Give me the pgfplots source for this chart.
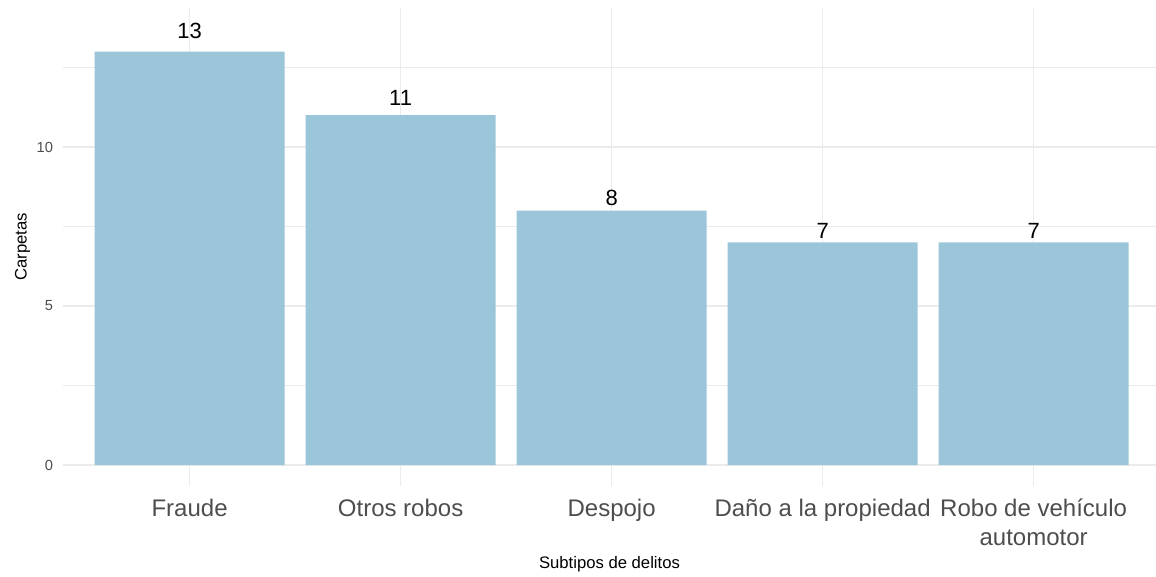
\documentclass[border=0pt]{standalone}
\usepackage{pgfplots}
\pgfplotsset{compat=1.18}
\usepackage{fontspec}
\setmainfont{Liberation Sans}
\definecolor{barc}{HTML}{9BC6D9}
\definecolor{gridc}{HTML}{EBEBEB}
\definecolor{tickc}{HTML}{4D4D4D}
\begin{document}
\begin{tikzpicture}[x=1pt,y=1pt]
\begin{axis}[
  scale only axis,
  width=819.75pt, height=358.5pt,
  xmin=0.4, xmax=5.58,
  ymin=-0.66, ymax=14.37,
  axis line style={draw=none},
  tick style={draw=none},
  xtick={1,2,3,4,5},
  xticklabels={Fraude,Otros robos,Despojo,Daño a la propiedad,{Robo de vehículo\\automotor}},
  xticklabel style={font=\fontsize{18}{21.5}\selectfont, text=tickc, align=center, anchor=north, yshift=-6pt},
  ytick={0,5,10},
  minor ytick={2.5,7.5,12.5},
  yticklabel style={font=\fontsize{11}{13}\selectfont, text=tickc, xshift=-4pt},
  /pgf/number format/assume math mode=true,
  xmajorgrids, ymajorgrids, yminorgrids,
  major grid style={draw=gridc, line width=0.9pt},
  minor grid style={draw=gridc, line width=0.9pt},
  xlabel={Subtipos de delitos},
  ylabel={Carpetas},
  xlabel style={font=\fontsize{12.5}{14}\selectfont, at={(axis description cs:0.5,0)}, yshift=-62pt, anchor=base},
  ylabel style={font=\fontsize{12.5}{14}\selectfont, yshift=-2pt},
  clip=false,
]
\addplot[ybar, bar width=0.9, fill=barc, draw=none] coordinates {(1,13) (2,11) (3,8) (4,7) (5,7)};
\addplot[draw=none, mark=none, only marks, point meta=explicit symbolic,
  nodes near coords,
  nodes near coords style={font=\fontsize{16.5}{18}\selectfont, text=black, anchor=center, inner sep=0pt}]
  coordinates {(1,13.65) [13] (2,11.55) [11] (3,8.4) [8] (4,7.35) [7] (5,7.35) [7]};
\end{axis}
\pgfresetboundingbox
\path ([xshift=-47.25pt, yshift=-68.25pt]current axis.south west) rectangle ([yshift=6pt]current axis.north east);
\end{tikzpicture}
\end{document}
